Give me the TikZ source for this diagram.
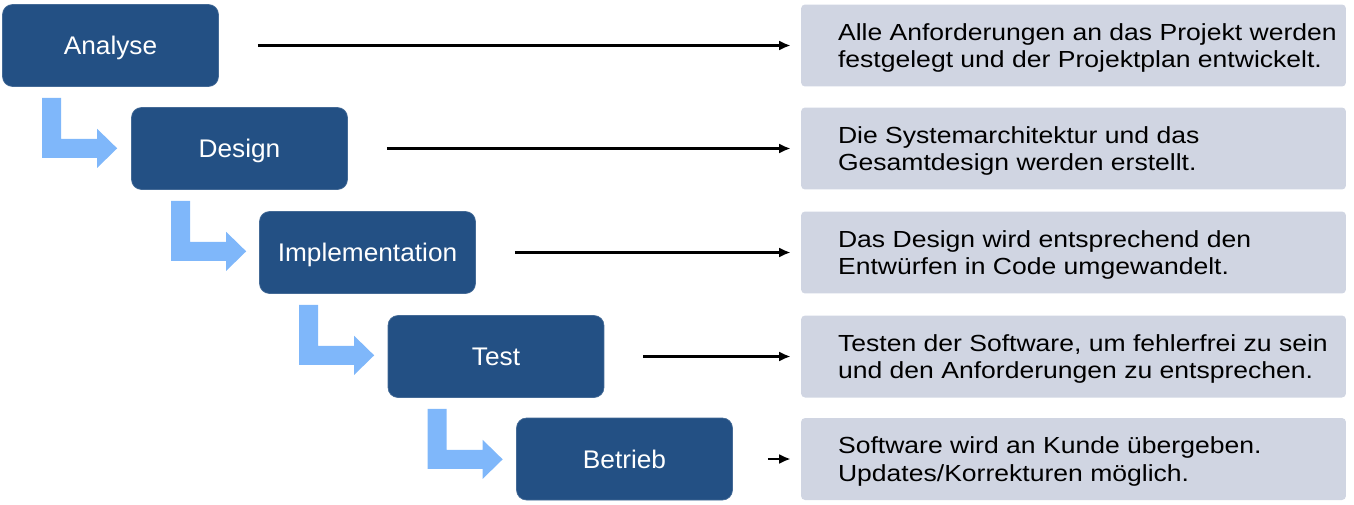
\documentclass[tikz,border=0pt]{standalone}
\usepackage{fontspec}
\setmainfont{Liberation Sans}
\newfontfamily\phasefont[FakeStretch=1.03]{Liberation Sans}
\newfontfamily\descfont[FakeStretch=1.14]{Liberation Sans}
\usetikzlibrary{arrows.meta,positioning,calc}
\definecolor{phaseblue}{RGB}{35,80,132}
\definecolor{stepblue}{RGB}{127,183,250}
\definecolor{descgray}{RGB}{208,213,226}

\begin{document}
\begin{tikzpicture}[x=0.02cm, y=-0.02cm, >={Latex[length=2.3mm,width=2mm]},
    phase/.style={fill=phaseblue, draw=phaseblue!85!white, rounded corners=0.2cm,
      minimum width=4.32cm, minimum height=1.64cm, text=white,
      text height=0.36cm, text depth=0pt,
      font=\phasefont\fontsize{14.5}{16}\selectfont},
    descbox/.style={fill=descgray, rounded corners=0.08cm,
      minimum width=10.9cm, minimum height=1.64cm},
    desctext/.style={anchor=west, align=left, inner sep=0pt, yshift=-0.05cm,
      font=\descfont\fontsize{13.25}{15.5}\selectfont},
    flow/.style={->, line width=1.4pt, shorten <=0.78cm, shorten >=0.2cm}]
    \useasboundingbox (0,0) rectangle (1354,504);
    % --- phases (waterfall) ---
    \node[phase] (ana) at (110.5,45.5)  {Analyse};
    \node[phase] (des) at (239.5,148.5) {Design};
    \node[phase] (imp) at (367.5,252.5) {Implementation};
    \node[phase] (tst) at (496,356.5)   {Test};
    \node[phase] (bet) at (624.5,459)   {Betrieb};
    % --- bent step arrows between phases ---
    \foreach \p in {ana,des,imp,tst}
      \fill[stepblue] ($(\p.south west)+(40,11)$) -- ++(19,0) -- ++(0,41)
        -- ++(36,0) -- ++(0,-10) -- ++(20,19.5) -- ++(-20,19.5)
        -- ++(0,-10) -- ++(-55,0) -- cycle;
    % --- descriptions ---
    \node[descbox] (dana) at (1073.5,45.5)  {};
    \node[descbox] (ddes) at (1073.5,148.5) {};
    \node[descbox] (dimp) at (1073.5,252.5) {};
    \node[descbox] (dtst) at (1073.5,356.5) {};
    \node[descbox] (dbet) at (1073.5,459)   {};
    \node[desctext] (tana) at ([xshift=0.74cm]dana.west)
      {Alle Anforderungen an das Projekt werden\\festgelegt und der Projektplan entwickelt.};
    \node[desctext] (tdes) at ([xshift=0.74cm]ddes.west)
      {Die Systemarchitektur und das\\Gesamtdesign werden erstellt.};
    \node[desctext] (timp) at ([xshift=0.74cm]dimp.west)
      {Das Design wird entsprechend den\\Entwürfen in Code umgewandelt.};
    \node[desctext] (ttst) at ([xshift=0.74cm]dtst.west)
      {Testen der Software, um fehlerfrei zu sein\\und den Anforderungen zu entsprechen.};
    \node[desctext] (tbet) at ([xshift=0.74cm]dbet.west)
      {Software wird an Kunde übergeben.\\Updates/Korrekturen möglich.};
    % --- phase -> description ---
    \draw[flow] (ana.east) -- (dana.west);
    \draw[flow] (des.east) -- (ddes.west);
    \draw[flow] (imp.east) -- (dimp.west);
    \draw[flow] (tst.east) -- (dtst.west);
    \draw[flow, shorten <=0.7cm] (bet.east) -- (dbet.west);
\end{tikzpicture}
\end{document}
